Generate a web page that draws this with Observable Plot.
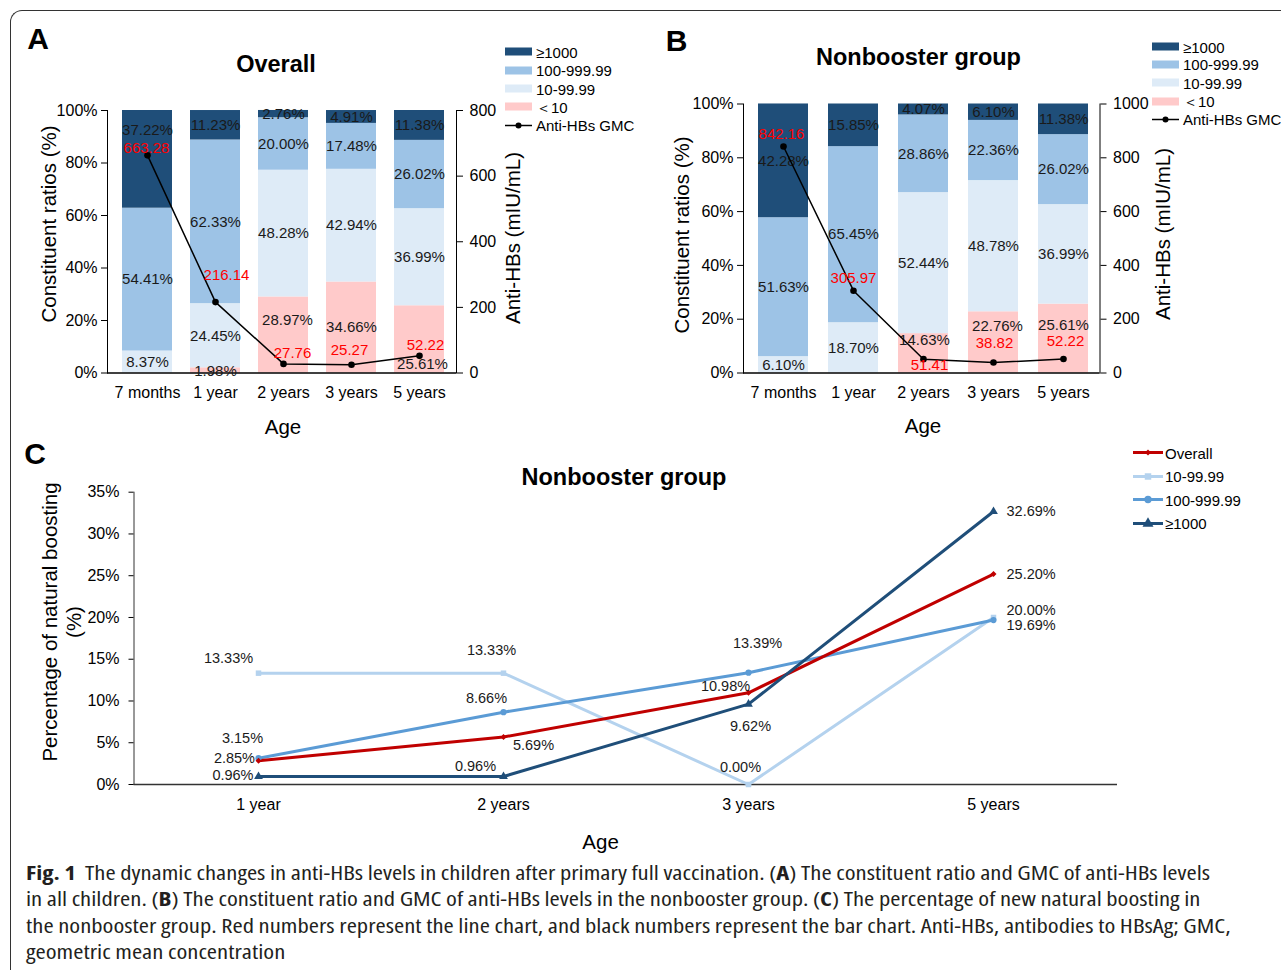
<!DOCTYPE html>
<html>
<head>
<meta charset="utf-8">
<script src="https://cdn.jsdelivr.net/npm/d3@7"></script>
<script src="https://cdn.jsdelivr.net/npm/@observablehq/plot@0.6"></script>
<style>
  html, body { margin: 0; padding: 0; background: #fff; }
  #page { position: relative; width: 1281px; height: 970px; overflow: hidden; background: #fff;
          font-family: "Liberation Sans", Arial, sans-serif; color: #000; }
  .layer { position: absolute; left: 0; top: 0; pointer-events: none; }
  .t { position: absolute; white-space: nowrap; line-height: 1; transform: translate(-50%, -50%); }
  .rot { transform: translate(-50%, -50%) rotate(-90deg); }
  .title { font-weight: bold; font-size: 23.5px; }
  .axt { font-size: 20.5px; }
  .letter { font-weight: bold; font-size: 30px; }
  .lg { position: absolute; white-space: nowrap; font-size: 15px; line-height: 1; transform: translateY(-50%); display: flex; align-items: center; }
  .sw { display: inline-block; width: 27px; height: 8px; margin-right: 4px; }
  #frameBorder { position: absolute; left: 10px; top: 10px; width: 1400px; height: 1100px;
                 border-top: 1px solid #333; border-left: 1px solid #333; border-top-left-radius: 12px; }
  .cap { position: absolute; left: 26px; white-space: nowrap; font-family: "Open Sans", "Noto Sans", sans-serif;
         font-size: 19px; line-height: 1; color: #231f20; transform-origin: 0 50%; font-stretch: 87%; }
  .cap b { font-weight: bold; }
</style>
</head>
<body>
<div id="page">
  <div id="frameBorder"></div>
</div>
<script>
// ---------------- DATA ----------------
const ages = ["7 months", "1 year", "2 years", "3 years", "5 years"];
const levels = ["＜10", "10-99.99", "100-999.99", "≥1000"];           // stack order bottom → top
const legendOrder = ["≥1000", "100-999.99", "10-99.99", "＜10"];

// Panel A: Overall (constituent ratios, %)
const overallLt10   = [0.00, 1.98, 28.97, 34.66, 25.61];
const overall10     = [8.37, 24.45, 48.28, 42.94, 36.99];
const overall100    = [54.41, 62.33, 20.00, 17.48, 26.02];
const overall1000   = [37.22, 11.23, 2.76, 4.91, 11.38];
const overallGMC    = [663.28, 216.14, 27.76, 25.27, 52.22];

// Panel B: Nonbooster group
const nonbLt10  = [0.00, 0.00, 14.63, 22.76, 25.61];
const nonb10    = [6.10, 18.70, 52.44, 48.78, 36.99];
const nonb100   = [51.63, 65.45, 28.86, 22.36, 26.02];
const nonb1000  = [42.28, 15.85, 4.07, 6.10, 11.38];
const nonbGMC   = [842.16, 305.97, 51.41, 38.82, 52.22];

// Panel C: percentage of natural boosting (nonbooster group)
const boostAges     = ["1 year", "2 years", "3 years", "5 years"];
const boostSeries   = ["Overall", "10-99.99", "100-999.99", "≥1000"];
const boostOverall  = [2.85, 5.69, 10.98, 25.20];
const boost10       = [13.33, 13.33, 0.00, 20.00];
const boost100      = [3.15, 8.66, 13.39, 19.69];
const boost1000     = [0.96, 0.96, 9.62, 32.69];

// ---------------- STYLE ----------------
const levelColors = ["#ffcaca", "#deebf7", "#9dc3e6", "#1f4e79"];
const seriesColors = ["#c00000", "#b4d2ee", "#5b9bd5", "#1f4e79"];
const seriesSymbols = ["diamond2", "square", "circle", "triangle"];
const seriesR = {"Overall": 3.3, "10-99.99": 4.3, "100-999.99": 4.3, "≥1000": 4.8};
const FONT = "background: transparent; font-family: 'Liberation Sans', Arial, sans-serif; font-size: 16px; max-width: none; overflow: visible; color: #000;";

const page = document.getElementById("page");
function addLayer(svg) {
  const d = document.createElement("div");
  d.className = "layer";
  d.appendChild(svg);
  page.appendChild(d);
}
function addText(html, x, y, cls, extraStyle = "") {
  const d = document.createElement("div");
  d.className = "t " + cls;
  d.style.left = x + "px"; d.style.top = y + "px";
  if (extraStyle) d.style.cssText += extraStyle;
  d.innerHTML = html;
  page.appendChild(d);
  return d;
}

// ---------------- STACKED BAR PANEL ----------------
function stackRows(series) {
  const rows = [];
  ages.forEach((age, i) => {
    let base = 0;
    levels.forEach((lvl, j) => {
      const v = series[j][i];
      rows.push({age, level: lvl, value: v, y1: base, y2: base + v});
      base += v;
    });
  });
  return rows;
}

function barPanel(cfg) {
  const rows = stackRows(cfg.series);
  const gmcRows = ages.map((age, i) => ({age, gmc: cfg.gmc[i]}));
  const xScale = {type: "band", domain: ages, range: cfg.xRange, paddingInner: cfg.pad, paddingOuter: cfg.pad / 2, axis: null};

  const labelMarks = rows.filter(r => r.value > 0).map(r => {
    const [dx, dy] = cfg.barNudges[`${r.age}|${r.level}`] || [0, 0];
    return Plot.text([r], {x: "age", y: d => (d.y1 + d.y2) / 2, text: d => d.value.toFixed(2) + "%",
                           dx, dy, fontSize: 15, fill: "#1a1a1a"});
  });

  const bars = Plot.plot({
    width: cfg.width, height: cfg.height,
    marginLeft: cfg.left, marginRight: cfg.width - cfg.right,
    marginTop: cfg.top, marginBottom: cfg.height - cfg.bottom,
    style: FONT,
    x: xScale,
    y: {domain: [0, 100], axis: null},
    color: {domain: levels, range: levelColors},
    marks: [
      Plot.barY(rows, {x: "age", y1: "y1", y2: "y2", fill: "level"}),
      Plot.frame({anchor: "left", stroke: "#000"}),
      Plot.ruleY([0], {stroke: "#000", strokeWidth: 1.3}),
      Plot.axisY({anchor: "left", ticks: [0, 20, 40, 60, 80, 100], tickFormat: d => d + "%",
                  tickSize: 6, tickPadding: 4, label: null, fontSize: 16}),
      Plot.axisX({anchor: "bottom", tickSize: 0, tickPadding: 14, label: null, fontSize: 16}),
      ...labelMarks
    ]
  });
  addLayer(bars);

  const gmcLabels = gmcRows.map((r, i) => {
    const [dx, dy] = cfg.gmcNudges[i];
    return Plot.text([r], {x: "age", y: "gmc", text: d => d.gmc.toFixed(2), dx, dy, fontSize: 15, fill: "#ff0000"});
  });

  const line = Plot.plot({
    width: cfg.width, height: cfg.height,
    marginLeft: cfg.left, marginRight: cfg.width - cfg.right,
    marginTop: cfg.top, marginBottom: cfg.height - cfg.bottom,
    style: FONT,
    x: xScale,
    y: {domain: [0, cfg.gmcMax], axis: null},
    marks: [
      Plot.frame({anchor: "right", stroke: "#000"}),
      Plot.axisY({anchor: "right", ticks: d3.range(0, cfg.gmcMax + 1, 200), tickFormat: d => String(d),
                  tickSize: 6, tickPadding: 7, label: null, fontSize: 16}),
      Plot.line(gmcRows, {x: "age", y: "gmc", stroke: "#000", strokeWidth: 1.5}),
      Plot.dot(gmcRows, {x: "age", y: "gmc", r: 3.3, fill: "#000"}),
      ...gmcLabels
    ]
  });
  addLayer(line);

  // legend
  legendOrder.forEach((lvl, k) => {
    const d = document.createElement("div");
    d.className = "lg";
    d.style.left = cfg.legX + "px"; d.style.top = cfg.legY[k] + "px";
    d.innerHTML = `<span class="sw" style="background:${levelColors[levels.indexOf(lvl)]}"></span>${lvl}`;
    page.appendChild(d);
  });
  const g = document.createElement("div");
  g.className = "lg";
  g.style.left = cfg.legX + "px"; g.style.top = cfg.legY[4] + "px";
  g.innerHTML = `<svg width="27" height="8" style="margin-right:4px;overflow:visible"><line x1="0" x2="27" y1="4" y2="4" stroke="#000" stroke-width="1.5"/><circle cx="13.5" cy="4" r="3" fill="#000"/></svg>Anti-HBs GMC`;
  page.appendChild(g);
}

// Panel A
barPanel({
  series: [overallLt10, overall10, overall100, overall1000],
  gmc: overallGMC, gmcMax: 800,
  width: 640, height: 450, left: 107, right: 456, top: 110, bottom: 372.5,
  xRange: [111.9, 454.9], pad: 0.264,
  barNudges: {"7 months|≥1000": [0, -29], "2 years|＜10": [4, -15], "5 years|＜10": [3, 25], "1 year|＜10": [0, 1]},
  gmcNudges: [[-1, -7], [11, -27], [9, -11], [-2, -15], [6, -11]],
  legX: 505, legY: [51.7, 70, 88.7, 106.7, 125.3]
});
// Panel B
barPanel({
  series: [nonbLt10, nonb10, nonb100, nonb1000],
  gmc: nonbGMC, gmcMax: 1000,
  width: 1281, height: 450, left: 743, right: 1099.5, top: 103.5, bottom: 372.5,
  xRange: [747.4, 1098.4], pad: 0.29,
  barNudges: {"2 years|＜10": [1, -13], "3 years|＜10": [4, -16], "5 years|＜10": [0, -13]},
  gmcNudges: [[-2, -12], [0, -13], [6, 6], [1, -19], [2, -18]],
  legX: 1152, legY: [46.7, 64.3, 82.7, 101, 119.3]
});

// ---------------- LINE PANEL C ----------------
const boostData = {"Overall": boostOverall, "10-99.99": boost10, "100-999.99": boost100, "≥1000": boost1000};
const drawOrder = ["10-99.99", "100-999.99", "Overall", "≥1000"];
const boostRows = [];
drawOrder.forEach(s => boostAges.forEach((age, i) => boostRows.push({series: s, age, value: boostData[s][i]})));

const cNudges = {
  "10-99.99|1 year": [-30, -15, "middle"], "10-99.99|2 years": [-12, -23, "middle"],
  "10-99.99|3 years": [-8, -17, "middle"], "10-99.99|5 years": [13, -7, "start"],
  "100-999.99|1 year": [-16, -20, "middle"], "100-999.99|2 years": [-17, -14, "middle"],
  "100-999.99|3 years": [9, -29, "middle"], "100-999.99|5 years": [13, 5.5, "start"],
  "Overall|1 year": [-3.5, -2, "end"], "Overall|2 years": [30, 8, "middle"],
  "Overall|3 years": [-23, -6.6, "middle"], "Overall|5 years": [13, 0, "start"],
  "≥1000|1 year": [-5, -1, "end"], "≥1000|2 years": [-28, -10, "middle"],
  "≥1000|3 years": [2, 22, "middle"], "≥1000|5 years": [13, 0, "start"]
};
const cLabels = boostRows.map(r => {
  const [dx, dy, anchor] = cNudges[`${r.series}|${r.age}`];
  return Plot.text([r], {x: "age", y: "value", text: d => d.value.toFixed(2) + "%", dx, dy, textAnchor: anchor,
                         fontSize: 14.5, fill: "#1a1a1a"});
});

const cPlot = Plot.plot({
  width: 1281, height: 870,
  marginLeft: 133.5, marginRight: 164, marginTop: 491.7, marginBottom: 86,
  style: FONT,
  x: {type: "point", domain: boostAges, padding: 0.5, axis: null},
  y: {domain: [0, 35], axis: null},
  color: {domain: boostSeries, range: seriesColors},
  symbol: {domain: boostSeries, range: seriesSymbols},
  marks: [
    Plot.frame({anchor: "left", stroke: "#333"}),
    Plot.ruleY([0], {stroke: "#333", strokeWidth: 1.3}),
    Plot.axisY({anchor: "left", ticks: d3.range(0, 36, 5), tickFormat: d => d + "%", tickSize: 5, tickPadding: 9.5,
                label: null, fontSize: 16}),
    Plot.axisX({anchor: "bottom", tickSize: 0, tickPadding: 14, label: null, fontSize: 16}),
    Plot.line(boostRows, {x: "age", y: "value", z: "series", stroke: "series", strokeWidth: 3}),
    Plot.dot(boostRows, {x: "age", y: "value", fill: "series", symbol: "series", r: d => seriesR[d.series]}),
    ...cLabels
  ]
});
addLayer(cPlot);

// legend C
const symPath = (name, size) => d3.symbol({diamond2: d3.symbolDiamond2, square: d3.symbolSquare, circle: d3.symbolCircle, triangle: d3.symbolTriangle}[name], size)();
[452.5, 476, 499.5, 523].forEach((y, k) => {
  const s = boostSeries[k];
  const r = seriesR[s] * 0.85;
  const d = document.createElement("div");
  d.className = "lg";
  d.style.left = "1133px"; d.style.top = y + "px";
  d.innerHTML = `<svg width="30" height="12" style="margin-right:2px;overflow:visible"><line x1="0" x2="30" y1="6" y2="6" stroke="${seriesColors[k]}" stroke-width="3"/><path transform="translate(15,6)" d="${symPath(seriesSymbols[k], Math.PI * r * r)}" fill="${seriesColors[k]}"/></svg>${s}`;
  page.appendChild(d);
});

// ---------------- TEXTS ----------------
addText("A", 38, 39, "letter");
addText("B", 676.5, 40.5, "letter");
addText("C", 35, 454, "letter");

addText("Overall", 276, 65, "title");
addText("Nonbooster group", 918.5, 58, "title");
addText("Nonbooster group", 624, 478, "title");

addText("Constituent ratios (%)", 48.7, 223.5, "axt rot");
addText("Anti-HBs (mIU/mL)", 513, 238, "axt rot");
addText("Age", 283, 426.7, "axt");

addText("Constituent ratios (%)", 681.5, 235, "axt rot");
addText("Anti-HBs (mIU/mL)", 1163, 234, "axt rot");
addText("Age", 923, 426, "axt");

addText("Percentage of natural boosting", 49.5, 621.7, "axt rot");
addText("(%)", 74, 621.7, "axt rot");
addText("Age", 600.6, 841.7, "axt");

// ---------------- CAPTION ----------------
const capLines = [
  "<b>Fig. 1</b>&nbsp; The dynamic changes in anti-HBs levels in children after primary full vaccination. (<b>A</b>) The constituent ratio and GMC of anti-HBs levels",
  "in all children. (<b>B</b>) The constituent ratio and GMC of anti-HBs levels in the nonbooster group. (<b>C</b>) The percentage of new natural boosting in",
  "the nonbooster group. Red numbers represent the line chart, and black numbers represent the bar chart. Anti-HBs, antibodies to HBsAg; GMC,",
  "geometric mean concentration"
];
const capY = [873, 899, 925.5, 952];
const capEls = capLines.map((html, i) => {
  const d = document.createElement("div");
  d.className = "cap";
  d.style.top = capY[i] + "px";
  d.innerHTML = html;
  page.appendChild(d);
  return d;
});
const w0 = capEls[0].getBoundingClientRect().width;
const k = 1184 / w0;
capEls.forEach(d => { d.style.transform = `translateY(-50%) scaleX(${k})`; });
</script>
</body>
</html>
